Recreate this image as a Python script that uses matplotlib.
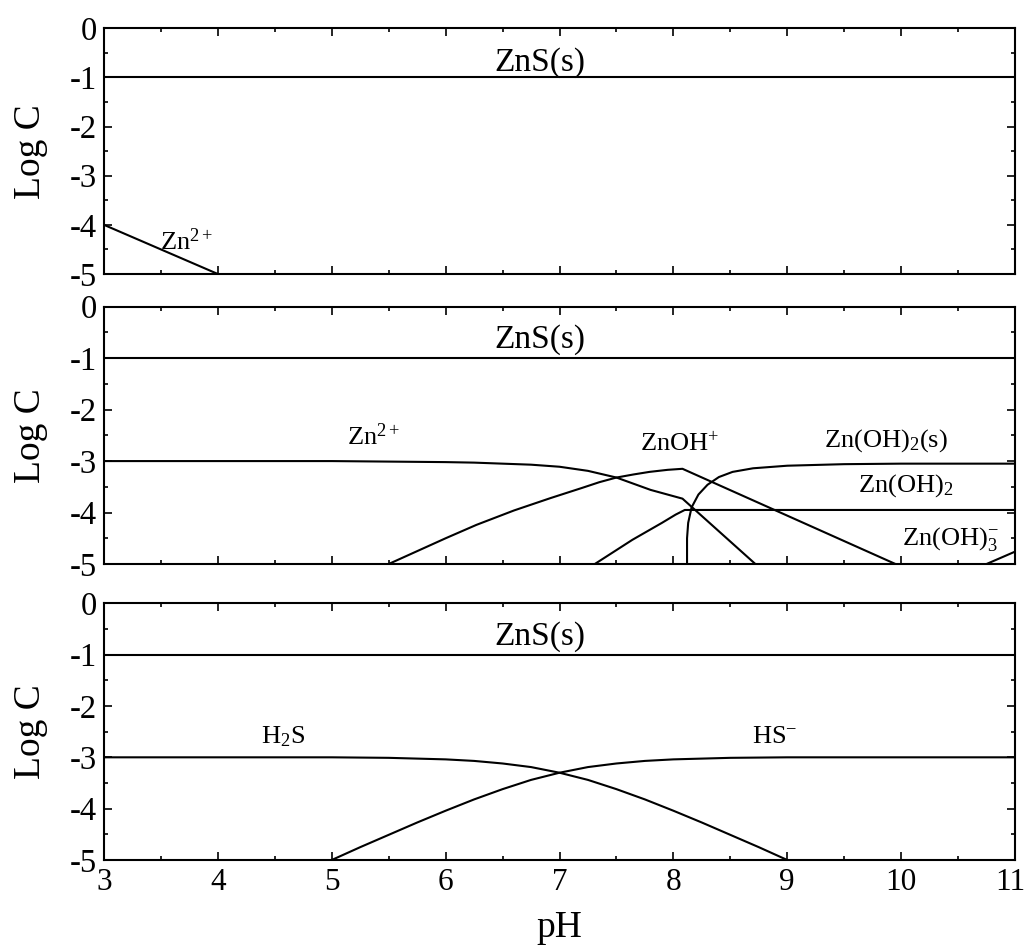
import matplotlib
matplotlib.use("Agg")
import matplotlib.pyplot as plt
import matplotlib.transforms as mtrans
from matplotlib.ticker import MultipleLocator

plt.rcParams['font.family'] = ['Liberation Serif', 'DejaVu Serif']
plt.rcParams['mathtext.fontset'] = 'custom'
plt.rcParams['mathtext.rm'] = 'Liberation Serif'
plt.rcParams['mathtext.it'] = 'Liberation Serif:italic'

# ---------------- data ----------------
# Panel 1
p1_zns_ph = [3, 11]
p1_zns = [-1, -1]
p1_zn_ph = [3, 4]
p1_zn = [-4.0, -5.0]

# Panel 2
p2_zns_ph = [3, 11]
p2_zns = [-1, -1]
zn2_ph = [3, 4, 5, 5.5, 6, 6.25, 6.5, 6.75, 7, 7.25, 7.5, 7.8, 8.08, 8.72]
zn2 = [-3.0, -3.0, -3.0, -3.01, -3.02, -3.03, -3.05, -3.07, -3.11, -3.19, -3.32, -3.56, -3.73, -5.0]
znoh_ph = [5.5, 5.75, 6.0, 6.27, 6.6, 6.92, 7.2, 7.35, 7.5, 7.65, 7.79, 7.95, 8.08, 9.95]
znoh = [-5.0, -4.75, -4.5, -4.24, -3.96, -3.72, -3.52, -3.41, -3.32, -3.26, -3.21, -3.17, -3.15, -5.0]
znoh2aq_ph = [7.31, 7.64, 7.9, 8.02, 8.10, 11]
znoh2aq = [-5.0, -4.53, -4.2, -4.04, -3.95, -3.95]
znoh2s_ph = [8.12, 8.12, 8.13, 8.16, 8.22, 8.3, 8.4, 8.52, 8.7, 9.0, 9.5, 10, 11]
znoh2s = [-5.0, -4.5, -4.2, -3.9, -3.65, -3.46, -3.31, -3.21, -3.14, -3.09, -3.06, -3.05, -3.05]
znoh3_ph = [10.75, 11]
znoh3 = [-5.0, -4.76]

# Panel 3
p3_zns_ph = [3, 11]
p3_zns = [-1, -1]
h2s_ph = [3, 4, 5, 5.5, 6, 6.25, 6.5, 6.75, 7, 7.25, 7.5, 7.75, 8, 8.25, 8.5, 8.75, 9]
h2s = [-3.0, -3.0, -3.0, -3.01, -3.04, -3.07, -3.12, -3.19, -3.3, -3.44, -3.62, -3.82,
       -4.04, -4.27, -4.51, -4.75, -5.0]
hs_ph = [5, 5.25, 5.5, 5.75, 6, 6.25, 6.5, 6.75, 7, 7.25, 7.5, 7.75, 8, 8.5, 9, 10, 11]
hs = [-5.0, -4.75, -4.51, -4.27, -4.04, -3.82, -3.62, -3.44, -3.3, -3.19, -3.12, -3.07,
      -3.04, -3.01, -3.0, -3.0, -3.0]

x_ticks = [3, 4, 5, 6, 7, 8, 9, 10, 11]
y_ticks = [0, -1, -2, -3, -4, -5]

# ---------------- figure ----------------
fig = plt.figure(figsize=(10.28, 9.5), dpi=100)
L, R = 104 / 1028, 1015 / 1028
W = R - L
def ax_at(top_px, bot_px):
    return fig.add_axes([L, 1 - bot_px / 950, W, (bot_px - top_px) / 950])

ax1 = ax_at(28.3, 274)
ax2 = ax_at(306.7, 564)
ax3 = ax_at(603.3, 860)

lw = 1.5
lab = 19
zfs = 24
for ax in (ax1, ax2, ax3):
    ax.set_xlim(3, 11)
    ax.set_ylim(-5, 0)
    ax.set_yticks(y_ticks)
    ax.set_yticklabels([str(v) for v in y_ticks])
    ax.set_xticks(x_ticks)
    ax.xaxis.set_minor_locator(MultipleLocator(0.5))
    ax.yaxis.set_minor_locator(MultipleLocator(0.5))
    ax.tick_params(which='both', direction='in', top=True, right=True, width=1.2)
    ax.tick_params(which='major', length=6)
    ax.tick_params(axis='y', which='major', pad=5, labelsize=23.5)
    ax.tick_params(axis='x', which='major', pad=6, labelsize=22.5)
    ax.tick_params(which='minor', length=3)
    for s in ax.spines.values():
        s.set_linewidth(1.5)
    ax.set_ylabel('Log C', fontsize=27)
    ax.yaxis.set_label_coords(-0.0615, 0.5)
for ax in (ax1, ax2):
    ax.tick_params(labelbottom=False)

# nudge the last x tick label so it stays inside the canvas
last = ax3.get_xticklabels()[-1]
last.set_transform(last.get_transform() +
                   mtrans.ScaledTranslation(-3.5 / 72, 0, fig.dpi_scale_trans))

# Panel 1
ax1.plot(p1_zns_ph, p1_zns, color='black', lw=lw)
ax1.plot(p1_zn_ph, p1_zn, color='black', lw=lw)
ax1.text(6.83, -0.86, 'ZnS(s)', fontsize=zfs, ha='center', va='baseline')
ax1.text(3.49, -4.5, r'$\mathrm{Zn^{2+}}$', fontsize=lab, ha='left', va='baseline')

# Panel 2
for xs, ys in [(p2_zns_ph, p2_zns), (zn2_ph, zn2), (znoh_ph, znoh),
               (znoh2aq_ph, znoh2aq), (znoh2s_ph, znoh2s), (znoh3_ph, znoh3)]:
    ax2.plot(xs, ys, color='black', lw=lw)
ax2.text(6.83, -0.8, 'ZnS(s)', fontsize=zfs, ha='center', va='baseline')
ax2.text(5.13, -2.68, r'$\mathrm{Zn^{2+}}$', fontsize=lab, ha='left', va='baseline')
ax2.text(7.71, -2.82, r'$\mathrm{ZnOH^{+}}$', fontsize=lab, ha='left', va='baseline')
ax2.text(9.32, -2.72, r'$\mathrm{Zn(OH)_2(s)}$', fontsize=lab, ha='left', va='baseline')
ax2.text(9.62, -3.59, r'$\mathrm{Zn(OH)_2}$', fontsize=lab, ha='left', va='baseline')
ax2.text(10.01, -4.63, r'$\mathrm{Zn(OH)_3^{-}}$', fontsize=lab, ha='left', va='baseline')

# Panel 3
for xs, ys in [(p3_zns_ph, p3_zns), (h2s_ph, h2s), (hs_ph, hs)]:
    ax3.plot(xs, ys, color='black', lw=lw)
ax3.text(6.83, -0.8, 'ZnS(s)', fontsize=zfs, ha='center', va='baseline')
ax3.text(4.38, -2.72, r'$\mathrm{H_2S}$', fontsize=lab, ha='left', va='baseline')
ax3.text(8.69, -2.72, r'$\mathrm{HS^{-}}$', fontsize=lab, ha='left', va='baseline')
ax3.set_xlabel('pH', fontsize=27)
ax3.xaxis.set_label_coords(0.5, -0.195)

fig.savefig('out.png', dpi=100)
